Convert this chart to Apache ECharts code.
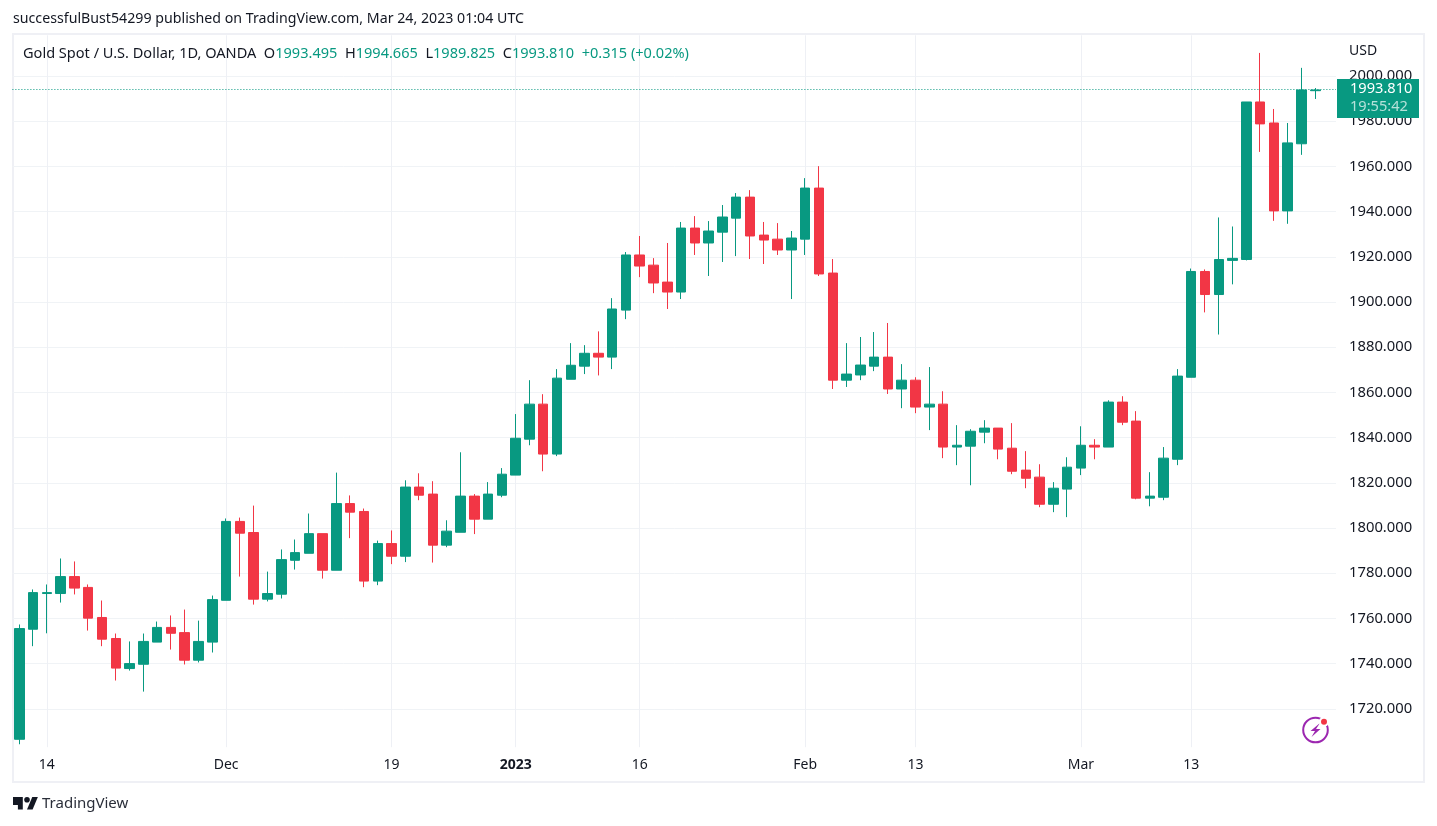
<!DOCTYPE html>
<html>
<head>
<meta charset="utf-8">
<style>html,body{margin:0;padding:0;background:#fff}#c{width:1437px;height:826px}</style>
<script src="https://cdn.jsdelivr.net/npm/echarts@6/dist/echarts.min.js"></script>
</head>
<body>
<div id="c"></div>
<script>
const dates = ['2022-11-10','2022-11-11','2022-11-14','2022-11-15','2022-11-16','2022-11-17','2022-11-18','2022-11-21','2022-11-22','2022-11-23','2022-11-24','2022-11-25','2022-11-28','2022-11-29','2022-11-30','2022-12-01','2022-12-02','2022-12-05','2022-12-06','2022-12-07','2022-12-08','2022-12-09','2022-12-12','2022-12-13','2022-12-14','2022-12-15','2022-12-16','2022-12-19','2022-12-20','2022-12-21','2022-12-22','2022-12-23','2022-12-27','2022-12-28','2022-12-29','2022-12-30','2023-01-03','2023-01-04','2023-01-05','2023-01-06','2023-01-09','2023-01-10','2023-01-11','2023-01-12','2023-01-13','2023-01-16','2023-01-17','2023-01-18','2023-01-19','2023-01-20','2023-01-23','2023-01-24','2023-01-25','2023-01-26','2023-01-27','2023-01-30','2023-01-31','2023-02-01','2023-02-02','2023-02-03','2023-02-06','2023-02-07','2023-02-08','2023-02-09','2023-02-10','2023-02-13','2023-02-14','2023-02-15','2023-02-16','2023-02-17','2023-02-20','2023-02-21','2023-02-22','2023-02-23','2023-02-24','2023-02-27','2023-02-28','2023-03-01','2023-03-02','2023-03-03','2023-03-06','2023-03-07','2023-03-08','2023-03-09','2023-03-10','2023-03-13','2023-03-14','2023-03-15','2023-03-16','2023-03-17','2023-03-20','2023-03-21','2023-03-22','2023-03-23','2023-03-24'];
const opens = [1706.5,1755.2,1771.0,1771.0,1778.5,1773.7,1760.4,1751.1,1737.8,1739.7,1749.5,1756.0,1753.7,1741.5,1749.5,1768.0,1802.9,1798.0,1768.5,1770.7,1785.7,1788.8,1797.5,1781.3,1810.8,1807.3,1776.5,1793.1,1787.5,1818.1,1815.0,1792.4,1798.1,1814.1,1803.9,1814.5,1823.4,1839.3,1854.8,1832.7,1865.8,1871.6,1877.3,1875.6,1896.4,1920.8,1916.3,1908.8,1904.4,1932.7,1926.1,1930.9,1937.1,1946.4,1929.6,1927.8,1923.0,1927.8,1950.4,1912.8,1865.4,1867.7,1871.6,1875.6,1861.5,1865.4,1853.5,1854.8,1835.8,1836.2,1842.4,1844.2,1835.3,1825.6,1822.5,1810.5,1817.2,1826.5,1836.6,1835.8,1855.7,1847.3,1813.2,1813.6,1830.4,1866.7,1913.5,1903.3,1918.4,1918.8,1988.5,1979.2,1940.3,1970.0,1993.495];
const highs = [1757.3,1772.8,1775.0,1786.5,1785.2,1775.0,1767.9,1753.3,1749.8,1753.3,1758.6,1761.3,1763.9,1759.0,1770.1,1804.2,1804.6,1809.9,1780.7,1790.5,1794.9,1806.4,1797.5,1824.5,1814.4,1808.6,1794.4,1798.9,1821.1,1824.2,1820.7,1803.4,1833.5,1815.0,1820.3,1826.5,1850.4,1865.4,1859.2,1870.3,1881.8,1880.9,1887.0,1901.7,1922.1,1929.2,1919.4,1926.1,1935.4,1938.0,1935.8,1942.9,1948.2,1949.5,1935.4,1934.9,1931.4,1954.8,1960.1,1919.0,1881.8,1884.5,1886.7,1890.7,1872.5,1866.7,1871.2,1860.5,1845.5,1843.7,1847.7,1844.2,1846.4,1834.0,1828.2,1820.3,1831.3,1845.0,1839.3,1856.5,1858.3,1851.7,1824.7,1835.8,1870.3,1914.8,1914.4,1937.4,1933.4,1988.5,2010.2,1985.4,1979.2,2003.6,1994.665];
const lows = [1704.3,1747.7,1753.4,1767.0,1770.6,1754.6,1747.7,1732.5,1736.9,1727.6,1749.5,1746.2,1739.6,1740.5,1744.9,1768.0,1778.5,1766.1,1767.5,1768.8,1781.6,1788.8,1777.6,1781.3,1795.5,1773.8,1774.7,1784.0,1784.9,1812.3,1784.7,1791.5,1798.1,1797.3,1803.9,1813.6,1823.4,1836.6,1825.1,1831.8,1865.8,1868.1,1867.5,1870.3,1892.4,1911.0,1903.9,1896.9,1901.3,1920.8,1911.5,1917.7,1920.3,1919.0,1916.8,1920.8,1901.3,1920.8,1911.5,1861.5,1862.4,1865.4,1869.4,1859.3,1853.0,1850.8,1843.3,1830.9,1827.8,1818.9,1837.5,1830.4,1823.8,1817.6,1809.2,1807.0,1804.8,1823.4,1830.4,1835.8,1845.5,1812.7,1809.6,1812.3,1827.8,1866.7,1895.4,1885.6,1907.8,1918.4,1966.4,1935.9,1934.6,1965.1,1989.825];
const closes = [1755.5,1771.4,1771.4,1778.5,1773.4,1760.1,1750.8,1738.0,1740.0,1749.8,1756.0,1753.4,1741.5,1749.8,1768.3,1802.9,1797.7,1768.5,1771.0,1786.0,1789.1,1797.5,1781.3,1810.8,1807.0,1776.5,1793.1,1787.5,1818.1,1814.5,1792.4,1798.6,1814.1,1803.9,1815.0,1823.8,1839.7,1854.8,1832.7,1866.3,1872.0,1877.3,1875.6,1896.9,1920.8,1915.9,1908.4,1904.4,1932.7,1926.1,1931.4,1937.6,1946.4,1929.2,1927.4,1923.0,1928.3,1950.4,1912.4,1865.4,1868.1,1872.1,1875.6,1861.5,1865.4,1853.5,1854.8,1835.8,1836.6,1842.8,1844.2,1834.9,1825.1,1822.0,1810.5,1817.6,1826.9,1836.6,1835.8,1855.7,1846.8,1813.2,1814.1,1830.9,1867.2,1913.5,1903.3,1918.8,1919.3,1988.5,1978.8,1940.3,1970.4,1993.8,1993.81];
const dateTicks = {'2022-11-14':'14','2022-12-01':'Dec','2022-12-19':'19','2023-01-03':'2023','2023-01-16':'16','2023-02-01':'Feb','2023-02-13':'13','2023-03-01':'Mar','2023-03-13':'13'};
const priceTicks = [1720,1740,1760,1780,1800,1820,1840,1860,1880,1900,1920,1940,1960,1980,2000];
const lastPrice = 1993.81;
const priceLineLevel = 1994.0;
const countdown = '19:55:42';

const UP = '#089981', DOWN = '#f23645', INK = '#131722', FONT = '"Noto Sans"';
const candles = dates.map((d, i) => [opens[i], closes[i], lows[i], highs[i]]);
const chart = echarts.init(document.getElementById('c'), null, {renderer: 'canvas'});

chart.setOption({
  animation: false,
  backgroundColor: '#ffffff',
  textStyle: {fontFamily: FONT},
  title: [
    {left: 13, top: 12, padding: 0,
     text: 'successfulBust54299 published on TradingView.com, Mar 24, 2023 01:04 UTC',
     textStyle: {fontFamily: FONT, fontSize: 14.2, fontWeight: 'normal', color: INK}},
    {left: 23, top: 46, padding: 0,
     text: '{k|Gold Spot / U.S. Dollar, 1D, OANDA  O}{v|1993.495}{k|  H}{v|1994.665}{k|  L}{v|1989.825}{k|  C}{v|1993.810}{v|  +0.315 (+0.02%)}',
     textStyle: {fontWeight: 'normal', rich: {
       k: {fontFamily: FONT, fontSize: 14.55, fontWeight: 'normal', color: INK},
       v: {fontFamily: FONT, fontSize: 14.55, fontWeight: 'normal', color: UP}
     }}}
  ],
  grid: {left: 12.4, top: 35.3, width: 1323.6, height: 711.9, containLabel: false},
  xAxis: {
    type: 'category',
    data: dates.concat(['']),
    boundaryGap: true,
    axisLine: {show: false},
    axisTick: {show: false},
    axisLabel: {
      interval: (i, v) => v in dateTicks,
      formatter: v => v === '2023-01-03' ? '{b|2023}' : (dateTicks[v] || ''),
      margin: 11, fontFamily: FONT, fontSize: 14, color: INK,
      rich: {b: {fontFamily: FONT, fontSize: 14, fontWeight: 'bold', color: INK}}
    },
    splitLine: {show: true, alignWithLabel: true,
      interval: (i, v) => v in dateTicks,
      lineStyle: {color: '#eef0f5', width: 1}}
  },
  yAxis: {
    type: 'value', position: 'right', min: 1703, max: 2018, scale: true,
    axisLine: {show: false},
    axisTick: {show: false, customValues: priceTicks},
    axisLabel: {customValues: priceTicks, margin: 13, padding: [2, 0, 0, 0], fontFamily: FONT, fontSize: 14.8, color: INK,
      formatter: v => v.toFixed(3)},
    splitLine: {show: true, lineStyle: {color: '#f0f3f6', width: 1}}
  },
  series: [{
    type: 'candlestick',
    data: candles,
    barWidth: 10,
    clip: true,
    itemStyle: {color: UP, color0: DOWN, borderColor: UP, borderColor0: DOWN, borderWidth: 1},
    markLine: {
      silent: true, symbol: 'none',
      label: {show: false},
      lineStyle: {type: [1, 2], color: UP, width: 1},
      data: [{yAxis: priceLineLevel}]
    }
  }]
});

const py = chart.convertToPixel({yAxisIndex: 0}, priceLineLevel);
chart.setOption({
  graphic: [
    {type: 'rect', z: -1, silent: true, shape: {x: 13, y: 34, width: 1411, height: 748},
     style: {fill: 'none', stroke: '#eff0f5', lineWidth: 2}},
    {type: 'text', z: 50, x: 1349, y: 44, style: {text: 'USD', font: '14px ' + FONT, fill: INK}},
    {type: 'rect', z: 60, shape: {x: 1337, y: py - 10.5, width: 82, height: 39}, style: {fill: UP}},
    {type: 'text', z: 61, x: 1350, y: py - 8, style: {text: lastPrice.toFixed(3), font: '14.6px ' + FONT, fill: '#ffffff'}},
    {type: 'text', z: 61, x: 1350, y: py + 10, style: {text: countdown, font: '14.6px ' + FONT, fill: 'rgba(255,255,255,0.7)'}},
    {type: 'polygon', z: 50, silent: true, shape: {points: [[13,797],[22.8,797],[22.8,809.6],[17.9,809.6],[17.9,804.9],[13,804.9]]}, style: {fill: INK}},
    {type: 'polygon', z: 50, silent: true, shape: {points: [[32.6,809.6],[27,809.6],[32.25,797],[37.85,797]]}, style: {fill: INK}},
    {type: 'circle', z: 50, silent: true, shape: {cx: 27, cy: 799.8, r: 2.8}, style: {fill: INK}},
    {type: 'text', z: 50, x: 42, y: 796, style: {text: 'TradingView', font: '15px ' + FONT, fill: '#2a2e39'}},
    {type: 'circle', z: 50, silent: true, shape: {cx: 1315.5, cy: 730, r: 12.3}, style: {fill: '#fff', stroke: '#9c27b0', lineWidth: 2}},
    {type: 'polygon', z: 51, silent: true, shape: {points: [[1320,723],[1310.5,731],[1315,731],[1311.5,737],[1320.5,729],[1316,729]]}, style: {fill: '#9c27b0'}},
    {type: 'circle', z: 52, silent: true, shape: {cx: 1324, cy: 721.7, r: 5}, style: {fill: '#fff'}},
    {type: 'circle', z: 53, silent: true, shape: {cx: 1324, cy: 721.7, r: 3}, style: {fill: DOWN}}
  ]
});
</script>
</body>
</html>
